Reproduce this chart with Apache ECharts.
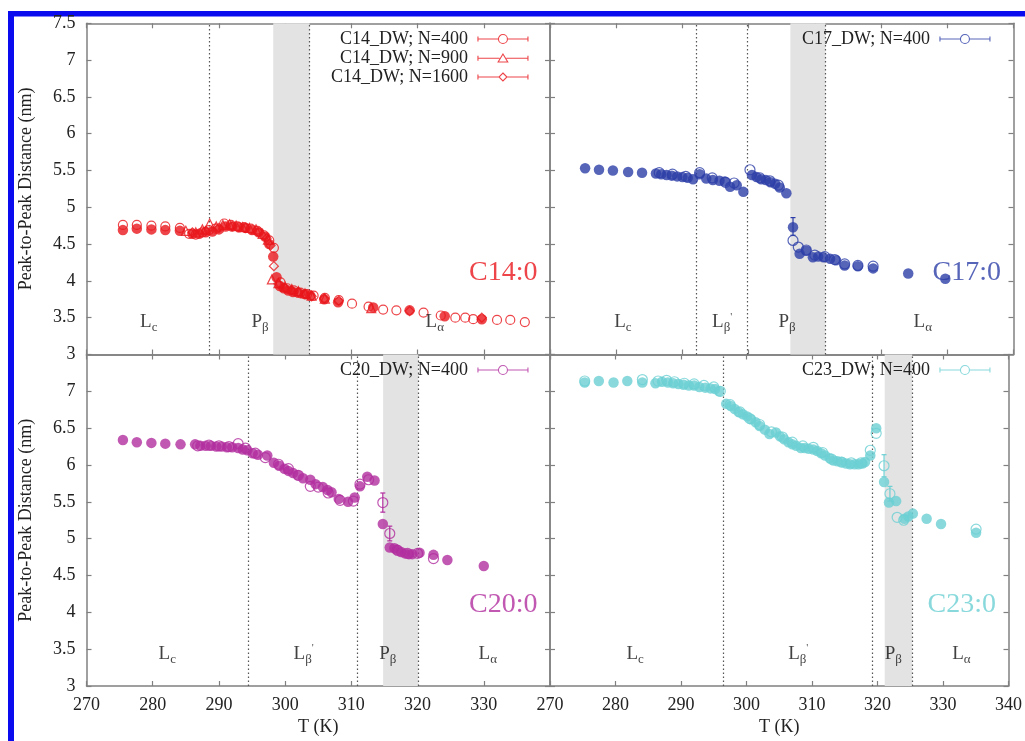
<!DOCTYPE html>
<html>
<head>
<meta charset="utf-8">
<script src="https://cdn.jsdelivr.net/npm/echarts@6/dist/echarts.min.js"></script>
<style>
  html, body { margin: 0; padding: 0; background: #fff; }
  #chart { width: 1025px; height: 741px; }
</style>
</head>
<body>
<div id="chart"></div>
<script>
// ---------------- data: temperature (K) vs peak-to-peak distance (nm) ----------------
const xRange = [270, 340, 10];
const yRange = [3, 7.5, 0.5];

// C14:0
const c14Filled = [[275.5,4.69],[277.6,4.71],[279.8,4.70],[281.9,4.69],[284.1,4.68],[286.0,4.64],[287.0,4.64],[288.0,4.66],[289.0,4.67],[290.0,4.70],[291.0,4.74],[292.0,4.74],[293.0,4.73],[294.0,4.72],[295.0,4.69],[296.0,4.66],[297.0,4.60],[297.6,4.50],[298.2,4.33],[298.7,4.05],[299.2,3.93],[299.8,3.90],[300.5,3.87],[301.2,3.85],[302.0,3.84],[303.0,3.82],[303.8,3.80],[305.9,3.75],[308.0,3.71],[313.3,3.64],[318.8,3.60],[324.1,3.52],[329.7,3.48]];
const c14N400 = [[275.5,4.76],[277.6,4.76],[279.8,4.75],[281.9,4.74],[284.1,4.72],[285.5,4.64],[286.5,4.63],[287.5,4.66],[288.5,4.69],[289.5,4.71],[290.8,4.78],[291.8,4.76],[292.8,4.74],[293.8,4.73],[294.8,4.71],[295.8,4.68],[296.8,4.62],[297.6,4.55],[298.3,4.45],[299.3,3.98],[300.3,3.90],[301.3,3.87],[302.3,3.84],[303.3,3.82],[304.3,3.80],[306.0,3.77],[308.1,3.74],[310.1,3.69],[312.6,3.65],[314.8,3.61],[316.8,3.60],[320.9,3.57],[323.5,3.53],[325.7,3.50],[327.2,3.50],[328.4,3.48],[332.0,3.47],[334.0,3.47],[336.2,3.44]];
const c14N900 = [[285.0,4.68],[286.5,4.66],[287.5,4.70],[288.6,4.78],[289.6,4.74],[290.6,4.76],[291.6,4.77],[292.6,4.75],[293.6,4.73],[294.6,4.72],[295.6,4.70],[296.6,4.64],[297.4,4.56],[298.0,4.02],[299.0,3.97],[300.0,3.92],[301.0,3.89],[302.0,3.86],[303.0,3.83],[304.0,3.80],[306.0,3.76],[313.0,3.63]];
const c14N1600 = [[286.0,4.66],[288.0,4.68],[290.0,4.72],[292.0,4.74],[294.0,4.72],[296.0,4.66],[297.2,4.58],[297.8,4.48],[298.3,4.20],[299.0,3.96],[300.0,3.90],[301.0,3.87],[302.0,3.85],[303.0,3.82],[304.0,3.79],[305.9,3.76],[308.1,3.73],[318.8,3.59],[329.7,3.50]];

// C17:0
const c17Filled = [[275.3,5.53],[277.4,5.51],[279.5,5.50],[281.8,5.48],[283.9,5.47],[286.0,5.46],[286.8,5.45],[287.6,5.44],[288.4,5.43],[289.2,5.42],[290.0,5.41],[290.8,5.40],[291.6,5.38],[292.6,5.45],[293.6,5.39],[294.6,5.37],[295.6,5.36],[296.4,5.35],[297.2,5.28],[298.2,5.30],[299.2,5.21],[300.5,5.44],[301.2,5.41],[301.9,5.38],[302.6,5.37],[303.3,5.34],[304.0,5.32],[304.7,5.27],[305.7,5.19],[306.7,4.73],[307.7,4.37],[308.7,4.41],[309.7,4.32],[310.5,4.33],[311.3,4.32],[312.3,4.30],[313.2,4.28],[314.5,4.21],[316.5,4.20],[318.8,4.17],[324.1,4.10],[329.7,4.03]];
const c17N400 = [[286.5,5.47],[288.5,5.45],[290.5,5.42],[292.6,5.47],[294.5,5.40],[296.5,5.34],[297.8,5.33],[300.2,5.51],[301.7,5.40],[303.2,5.36],[304.5,5.30],[306.7,4.55],[307.5,4.46],[308.7,4.42],[310.0,4.35],[311.5,4.33],[313.0,4.29],[314.5,4.23],[316.5,4.21],[318.8,4.20]];

// C20:0
const c20Filled = [[275.5,6.34],[277.6,6.31],[279.8,6.30],[281.9,6.29],[284.2,6.28],[286.4,6.28],[287.2,6.26],[288.0,6.26],[288.8,6.26],[289.6,6.25],[290.4,6.25],[291.2,6.24],[292.0,6.24],[292.9,6.23],[293.6,6.21],[294.3,6.20],[295.1,6.16],[295.9,6.14],[297.3,6.13],[298.3,6.03],[299.1,5.99],[299.9,5.95],[300.5,5.92],[301.2,5.89],[301.9,5.86],[302.7,5.82],[303.8,5.80],[304.6,5.74],[305.7,5.70],[306.4,5.66],[307.0,5.63],[308.1,5.54],[309.5,5.50],[310.5,5.56],[311.3,5.71],[312.4,5.84],[313.5,5.79],[314.75,5.20],[315.8,4.88],[316.5,4.87],[316.9,4.85],[317.5,4.82],[318.1,4.80],[318.7,4.79],[319.2,4.79],[320.3,4.81],[322.4,4.78],[324.5,4.71],[330.0,4.63]];
const c20N400 = [[286.8,6.26],[288.5,6.27],[290.0,6.26],[291.5,6.25],[292.9,6.29],[294.0,6.23],[295.5,6.16],[297.0,6.10],[299.0,6.01],[300.5,5.95],[302.0,5.86],[303.8,5.71],[305.0,5.70],[306.5,5.62],[308.3,5.52],[310.3,5.51],[311.3,5.74],[312.6,5.80],[314.75,5.49],[315.8,5.07],[317.0,4.84],[318.5,4.80],[320.0,4.80],[322.4,4.73]];

// C23:0
const c23Filled = [[275.3,7.12],[277.45,7.14],[279.7,7.12],[281.8,7.14],[284.1,7.12],[286.1,7.11],[287.1,7.13],[288.0,7.12],[288.8,7.11],[289.6,7.10],[290.4,7.09],[291.2,7.08],[292.0,7.08],[292.8,7.06],[293.7,7.05],[294.5,7.04],[295.2,7.03],[295.8,7.00],[296.9,6.83],[297.6,6.80],[298.2,6.76],[298.8,6.72],[299.45,6.69],[300.1,6.66],[300.7,6.62],[301.4,6.58],[302.0,6.53],[302.8,6.48],[303.5,6.42],[304.5,6.44],[305.1,6.39],[305.75,6.35],[306.4,6.31],[307.0,6.28],[307.6,6.26],[308.3,6.23],[308.9,6.23],[309.5,6.22],[310.2,6.21],[310.8,6.19],[311.4,6.16],[312.0,6.13],[312.7,6.09],[313.3,6.06],[313.9,6.05],[314.55,6.04],[315.2,6.02],[315.8,6.01],[316.5,6.01],[317.1,6.01],[317.7,6.02],[318.1,6.04],[318.9,6.13],[319.8,6.50],[321.0,5.77],[321.75,5.49],[322.85,5.51],[324.1,5.27],[324.7,5.30],[325.4,5.34],[327.5,5.27],[329.7,5.20],[335.05,5.08]];
const c23N400 = [[275.3,7.14],[284.1,7.16],[286.5,7.14],[287.8,7.15],[289.0,7.13],[290.5,7.11],[292.0,7.10],[293.5,7.08],[295.0,7.06],[296.0,7.00],[297.5,6.82],[299.0,6.72],[300.5,6.63],[302.0,6.55],[303.8,6.45],[305.5,6.38],[307.0,6.31],[308.6,6.26],[310.2,6.24],[311.6,6.17],[313.0,6.08],[314.5,6.04],[316.0,6.03],[317.5,6.03],[318.9,6.20],[319.8,6.43],[321.0,5.99],[321.9,5.61],[323.0,5.29],[324.0,5.25],[335.05,5.13]];

// error bars: [T, low, high]
const c17Errors = [[306.7,4.62,4.86]];
const c20Errors = [[314.75,5.36,5.62],[315.8,4.97,5.17]];
const c23Errors = [[321.0,5.84,6.14],[321.9,5.51,5.71]];

// phase boundaries (K): dotted lines and the shaded P-beta band
const c14Bounds = [288.5, 303.7];
const c14Band = [298.2, 303.7];
const c17Bounds = [292.05, 299.8, 311.6];
const c17Band = [306.3, 311.6];
const c20Bounds = [294.5, 310.9, 320.1];
const c20Band = [314.8, 320.1];
const c23Bounds = [296.5, 319.2, 325.3];
const c23Band = [321.1, 325.3];

// phase names and their temperature positions
const c14Phases = [['L_c', 279.4], ['P_β', 296.2], ['L_α', 322.6]];
const c17Phases = [['L_c', 281.0], ["L_β'", 296.0], ['P_β', 305.8], ['L_α', 326.3]];
const c20Phases = [['L_c', 282.2], ["L_β'", 302.8], ['P_β', 315.5], ['L_α', 330.6]];
const c23Phases = [['L_c', 283.0], ["L_β'", 307.9], ['P_β', 322.4], ['L_α', 332.8]];
const phaseLevel = 3.44;

const panelNames = ['C14:0', 'C17:0', 'C20:0', 'C23:0'];
const panelNamePos = [338.1, 4.11];

const legendNames = {
  c14: ['C14_DW; N=400', 'C14_DW; N=900', 'C14_DW; N=1600'],
  c17: ['C17_DW; N=400'],
  c20: ['C20_DW; N=400'],
  c23: ['C23_DW; N=400']
};

// ---------------- styling ----------------
const FONT = "'Liberation Serif', 'Times New Roman', 'DejaVu Serif', serif";
const RED = '#e8161c', BLUE = '#2d3ea8', MAGENTA = '#b22e9f', CYAN = '#6ccfd3';
const FRAME = '#808080';

const grids = [
  { left: 86.5, top: 23.3, width: 463.5, height: 331.2 },
  { left: 550,  top: 23.3, width: 463.5, height: 331.2 },
  { left: 86.5, top: 354.5, width: 463.5, height: 331.5 },
  { left: 550,  top: 354.5, width: 463.5, height: 331.5 }
];

const axisLineStyle = { color: FRAME, width: 1.5 };
const tickStyle = { color: FRAME, width: 1.2 };
const labelStyle = { fontFamily: FONT, fontSize: 18, color: '#222' };

const xAxes = [], yAxes = [];
grids.forEach((g, i) => {
  const bottomRow = i >= 2, leftCol = i % 2 === 0;
  const base = { type: 'value', gridIndex: i, splitLine: { show: false },
                 axisLine: { show: true, onZero: false, lineStyle: axisLineStyle },
                 axisTick: { show: true, inside: true, length: 5, lineStyle: tickStyle } };
  xAxes.push(Object.assign({}, base, {
    position: 'bottom', min: xRange[0], max: xRange[1], interval: xRange[2],
    axisLabel: { show: bottomRow, margin: 10, showMaxLabel: i === 3, showMinLabel: true, ...labelStyle },
    name: bottomRow ? 'T (K)' : '', nameLocation: 'middle', nameGap: 32,
    nameTextStyle: { fontFamily: FONT, fontSize: 18, color: '#222' }
  }));
  xAxes.push(Object.assign({}, base, {
    position: 'top', min: xRange[0], max: xRange[1], interval: xRange[2],
    axisLabel: { show: false }
  }));
  yAxes.push(Object.assign({}, base, {
    position: 'left', min: yRange[0], max: yRange[1], interval: yRange[2],
    axisLabel: { show: leftCol, margin: 11, showMaxLabel: i === 0, showMinLabel: true, ...labelStyle },
    name: leftCol ? 'Peak-to-Peak Distance (nm)' : '', nameLocation: 'middle', nameGap: 51,
    nameTextStyle: { fontFamily: FONT, fontSize: 18, color: '#222' }
  }));
  yAxes.push(Object.assign({}, base, {
    position: 'right', min: yRange[0], max: yRange[1], interval: yRange[2],
    axisLabel: { show: false }
  }));
});

function filledSeries(data, g, color, bounds, band) {
  return {
    type: 'scatter', name: 'filled' + g, xAxisIndex: g * 2, yAxisIndex: g * 2,
    data: data, symbol: 'circle', symbolSize: 10.5, z: 3, silent: true,
    itemStyle: { color: color },
    markArea: { silent: true, z: 1, itemStyle: { color: '#e3e3e3' },
                data: [[{ xAxis: band[0] }, { xAxis: band[1] }]] },
    markLine: { silent: true, z: 2, symbol: 'none', label: { show: false },
                lineStyle: { color: '#555', width: 1.2, type: [1.5, 2.5] },
                data: bounds.map(b => ({ xAxis: b })) }
  };
}
function openSeries(name, data, g, color, symbol, size) {
  return {
    type: 'scatter', name: name, xAxisIndex: g * 2, yAxisIndex: g * 2,
    data: data, symbol: symbol, symbolSize: size, z: 4, silent: true,
    itemStyle: { color: 'rgba(0,0,0,0)', borderColor: color, borderWidth: 1.2 }
  };
}
function errorSeries(data, g, color) {
  return {
    type: 'custom', xAxisIndex: g * 2, yAxisIndex: g * 2, z: 4, silent: true,
    data: data, encode: { x: 0, y: [1, 2] },
    renderItem: (params, api) => {
      const t = api.value(0), lo = api.coord([t, api.value(1)]), hi = api.coord([t, api.value(2)]);
      const st = { stroke: color, lineWidth: 1.2 };
      return { type: 'group', children: [
        { type: 'line', shape: { x1: lo[0], y1: lo[1], x2: hi[0], y2: hi[1] }, style: st },
        { type: 'line', shape: { x1: lo[0] - 2.5, y1: lo[1], x2: lo[0] + 2.5, y2: lo[1] }, style: st },
        { type: 'line', shape: { x1: hi[0] - 2.5, y1: hi[1], x2: hi[0] + 2.5, y2: hi[1] }, style: st }
      ] };
    }
  };
}
const phaseRich = {
  m: { fontFamily: FONT, fontSize: 19, color: '#111' },
  s: { fontFamily: FONT, fontSize: 13, color: '#111', padding: [11, 0, 0, 0] },
  p: { fontFamily: FONT, fontSize: 11, color: '#111', padding: [0, 0, 10, 0] }
};
function phaseSeries(phases, g) {
  return {
    type: 'scatter', xAxisIndex: g * 2, yAxisIndex: g * 2, symbolSize: 0, z: 5, silent: true,
    data: phases.map(p => {
      const parts = p[0].split('_');
      const sub = parts[1].replace("'", '');
      const prime = parts[1].indexOf("'") >= 0 ? "{p|'}" : '';
      return { value: [p[1], phaseLevel],
               label: { formatter: '{m|' + parts[0] + '}{s|' + sub + '}' + prime } };
    }),
    label: { show: true, position: 'inside', rich: phaseRich }
  };
}
function nameSeries(text, g, color) {
  return {
    type: 'scatter', xAxisIndex: g * 2, yAxisIndex: g * 2, symbolSize: 0, z: 5, silent: true,
    data: [panelNamePos],
    label: { show: true, position: 'inside', align: 'right', formatter: text,
             fontFamily: FONT, fontSize: 28, color: color }
  };
}

// legend icons: error-bar line with end caps and the marker in the middle
const capLine = 'M0,2.5 L0,7.5 M50,2.5 L50,7.5 ';
const iconCircle = 'path://' + capLine + 'M0,5 L20.5,5 M29.5,5 L50,5 M20.5,5 A4.5,4.5 0 1,1 29.5,5 A4.5,4.5 0 1,1 20.5,5';
const iconTriangle = 'path://' + capLine + 'M0,5 L21.6,5 M28.4,5 L50,5 M25,0.8 L29.8,8.8 L20.2,8.8 Z';
const iconDiamond = 'path://' + capLine + 'M0,5 L21,5 M29,5 L50,5 M25,1 L29,5 L25,9 L21,5 Z';

function legendBlock(names, icons, color, top, right) {
  return {
    orient: 'vertical', top: top, right: right, align: 'right', itemGap: 1,
    itemWidth: 50, itemHeight: 10, selectedMode: false, padding: 0,
    textStyle: { fontFamily: FONT, fontSize: 18, color: '#222', padding: [0, 5, 0, 0] },
    data: names.map((n, k) => ({ name: n, icon: icons[k],
      itemStyle: { color: 'rgba(0,0,0,0)', borderColor: color, borderWidth: 1.1 } }))
  };
}

const series = [
  filledSeries(c14Filled, 0, RED, c14Bounds, c14Band),
  openSeries(legendNames.c14[0], c14N400, 0, RED, 'circle', 9),
  openSeries(legendNames.c14[1], c14N900, 0, RED, 'triangle', 9),
  openSeries(legendNames.c14[2], c14N1600, 0, RED, 'diamond', 9),
  phaseSeries(c14Phases, 0), nameSeries(panelNames[0], 0, RED),

  filledSeries(c17Filled, 1, BLUE, c17Bounds, c17Band),
  openSeries(legendNames.c17[0], c17N400, 1, BLUE, 'circle', 10),
  errorSeries(c17Errors, 1, BLUE),
  phaseSeries(c17Phases, 1), nameSeries(panelNames[1], 1, BLUE),

  filledSeries(c20Filled, 2, MAGENTA, c20Bounds, c20Band),
  openSeries(legendNames.c20[0], c20N400, 2, MAGENTA, 'circle', 10),
  errorSeries(c20Errors, 2, MAGENTA),
  phaseSeries(c20Phases, 2), nameSeries(panelNames[2], 2, MAGENTA),

  filledSeries(c23Filled, 3, CYAN, c23Bounds, c23Band),
  openSeries(legendNames.c23[0], c23N400, 3, CYAN, 'circle', 10),
  errorSeries(c23Errors, 3, CYAN),
  phaseSeries(c23Phases, 3), nameSeries(panelNames[3], 3, CYAN)
];

const chart = echarts.init(document.getElementById('chart'), null, { renderer: 'canvas' });
chart.setOption({
  backgroundColor: '#fff',
  animation: false,
  grid: grids,
  xAxis: xAxes,
  yAxis: yAxes,
  legend: [
    legendBlock(legendNames.c14, [iconCircle, iconTriangle, iconDiamond], RED, 30, 496.5),
    legendBlock(legendNames.c17, [iconCircle], BLUE, 30, 34.5),
    legendBlock(legendNames.c20, [iconCircle], MAGENTA, 361, 496.5),
    legendBlock(legendNames.c23, [iconCircle], CYAN, 361, 34.5)
  ],
  graphic: [
    { type: 'rect', silent: true, shape: { x: 8, y: 11, width: 1017, height: 5.5 }, style: { fill: '#0b0bef' } },
    { type: 'rect', silent: true, shape: { x: 8, y: 11, width: 6, height: 730 }, style: { fill: '#0b0bef' } }
  ],
  series: series
});
</script>
</body>
</html>
